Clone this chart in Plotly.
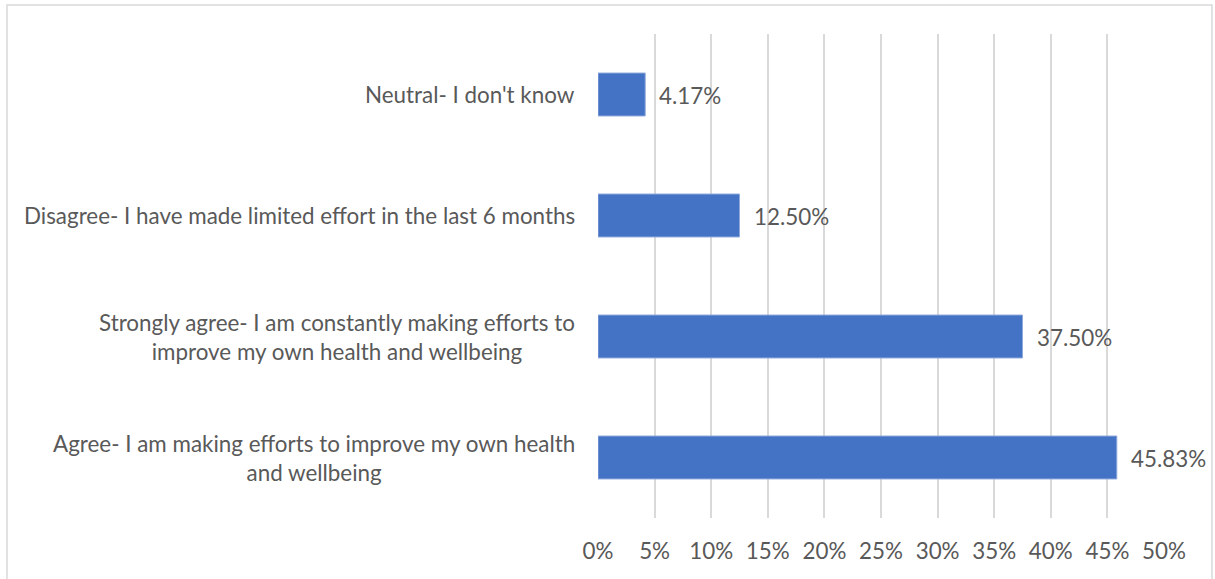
import plotly.graph_objects as go

# Survey responses (bottom to top on the chart)
categories = [
    "Agree- I am making efforts to improve my own health<br>and wellbeing",
    "Strongly agree- I am constantly making efforts to<br>improve my own health and wellbeing",
    "Disagree- I have made limited effort in the last 6 months",
    "Neutral- I don't know",
]
shares = [45.83, 37.50, 12.50, 4.17]
tick_vals = [0, 5, 10, 15, 20, 25, 30, 35, 40, 45, 50]
tick_text = [f"{v}%" for v in tick_vals]

FONT = "Lato"
TEXT_COLOR = "#595959"
FS = 22.4

fig = go.Figure(
    go.Bar(
        y=categories,
        x=shares,
        orientation="h",
        marker=dict(color="#4472C4", line=dict(color="#8FAADC", width=1)),
        hoverinfo="skip",
    )
)

annotations = []
# Category labels, centred lines, right-aligned block next to the axis
for cat in categories:
    annotations.append(dict(
        x=0, xref="paper", y=cat, yref="y",
        text=cat, showarrow=False, xanchor="right", yanchor="middle",
        align="center", xshift=-21,
        font=dict(family=FONT, size=FS, color=TEXT_COLOR),
    ))
# Value labels just past the end of each bar
for cat, val in zip(categories, shares):
    annotations.append(dict(
        x=val, xref="x", y=cat, yref="y",
        text=f"{val:.2f}%", showarrow=False, xanchor="left", yanchor="middle",
        xshift=12, yshift=-1,
        font=dict(family=FONT, size=FS, color=TEXT_COLOR),
    ))

W, H = 1215, 579
ml, mr, mt, mb = 598, W - 1164, 34, H - 518
pw, ph = W - ml - mr, H - mt - mb

def px_x(x):
    return (x - ml) / pw

def px_y(y):
    return (H - mb - y) / ph

fig.update_layout(
    width=W, height=H,
    margin=dict(l=ml, r=mr, t=mt, b=mb, pad=0),
    paper_bgcolor="white", plot_bgcolor="white",
    showlegend=False,
    bargap=0.645,
    font=dict(family=FONT, size=FS, color=TEXT_COLOR),
    xaxis=dict(
        range=[0, 50], tickvals=tick_vals, ticktext=tick_text,
        showgrid=True, gridcolor="#D9D9D9", gridwidth=1.5,
        zeroline=False, showline=False, ticks="",
        ticklabelstandoff=18,
        tickfont=dict(family=FONT, size=FS, color=TEXT_COLOR),
        fixedrange=True,
    ),
    yaxis=dict(
        showticklabels=False, showgrid=False, zeroline=False,
        showline=False, ticks="", fixedrange=True,
    ),
    annotations=annotations,
    shapes=[dict(
        type="rect", xref="paper", yref="paper",
        x0=px_x(7), x1=px_x(1212), y0=px_y(590), y1=px_y(5),
        line=dict(color="#D9D9D9", width=1.5), layer="below",
    )],
)

fig.write_html("out.html")
